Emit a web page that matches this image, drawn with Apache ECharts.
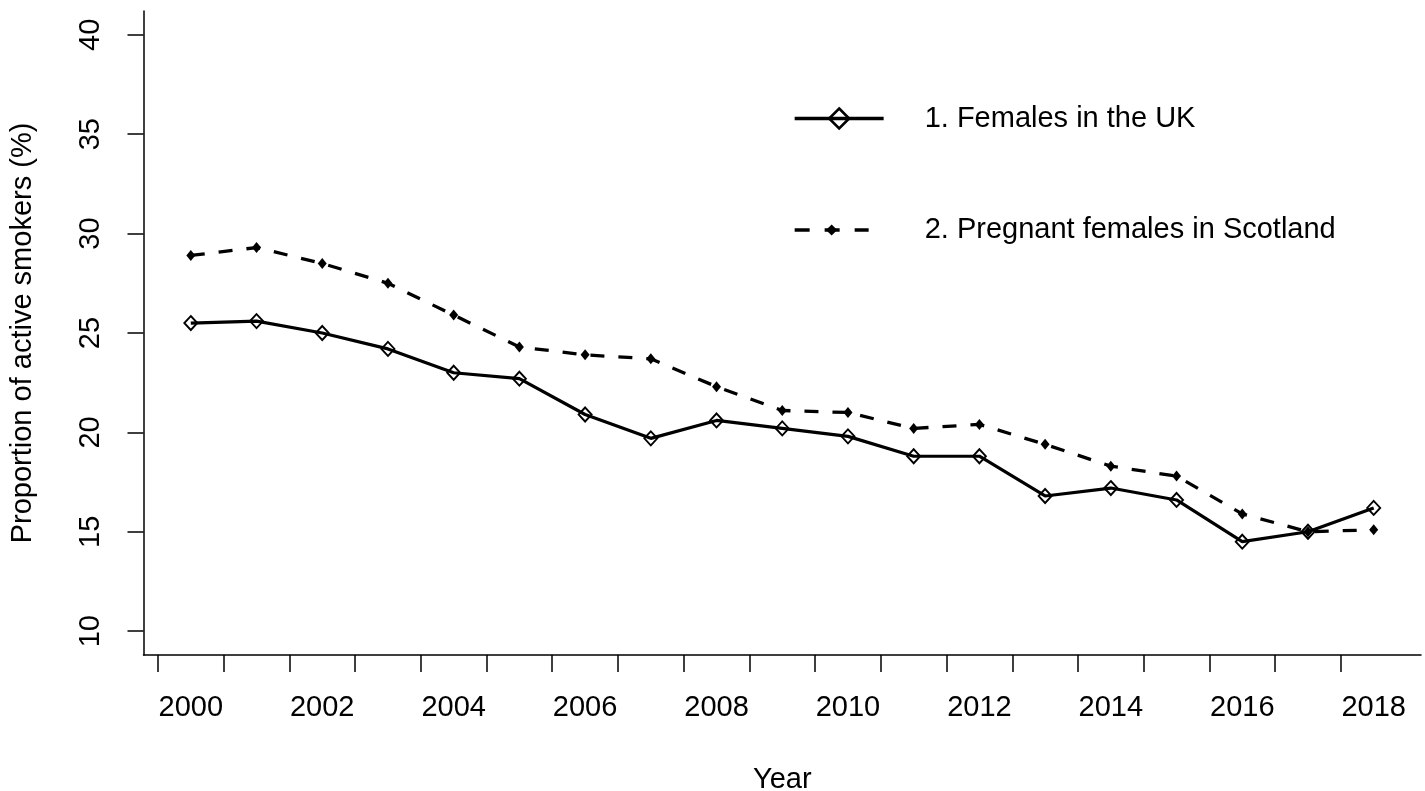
<!DOCTYPE html>
<html>
<head>
<meta charset="utf-8">
<script src="https://cdn.jsdelivr.net/npm/echarts@6/dist/echarts.min.js"></script>
<style>
html,body{margin:0;padding:0;background:#fff;}
#chart{width:1425px;height:791px;}
</style>
</head>
<body>
<div id="chart"></div>
<script>
// ---- data ----
var years = [2000,2001,2002,2003,2004,2005,2006,2007,2008,2009,2010,2011,2012,2013,2014,2015,2016,2017,2018];
var femalesUK = [25.5,25.6,25.0,24.2,23.0,22.7,20.9,19.7,20.6,20.2,19.8,18.8,18.8,16.8,17.2,16.6,14.5,15.0,16.2];
var pregnantScotland = [28.9,29.3,28.5,27.5,25.9,24.3,23.9,23.7,22.3,21.1,21.0,20.2,20.4,19.4,18.3,17.8,15.9,15.0,15.1];
var seriesNames = ['1. Females in the UK','2. Pregnant females in Scotland'];
var yTicks = [10,15,20,25,30,35,40];
var xLabels = [2000,2002,2004,2006,2008,2010,2012,2014,2016,2018];
var xTicks = years.map(function(y){return y - 0.5;});

var FONT = '"Liberation Sans", Arial, Helvetica, sans-serif';
var FS = 29;

function pairs(vals){ return years.map(function(y,i){ return [y, vals[i]]; }); }

var chart = echarts.init(document.getElementById('chart'), null, {renderer:'canvas'});
chart.setOption({
  animation:false,
  backgroundColor:'#fff',
  textStyle:{fontFamily:FONT},
  grid:{left:143.5, right:4, top:11, bottom:136, containLabel:false, outerBoundsMode:'none'},
  xAxis:{
    type:'value', min:1999.28, max:2018.72,
    name:'Year', nameLocation:'middle', nameGap:110,
    nameTextStyle:{fontSize:FS, color:'#000', fontFamily:FONT},
    axisLine:{show:true, onZero:false, lineStyle:{color:'#000', width:1.5}},
    axisTick:{show:true, inside:false, length:17, lineStyle:{color:'#000', width:1.5}, customValues:xTicks},
    axisLabel:{show:true, margin:38, fontSize:FS, color:'#000', fontFamily:FONT, customValues:xLabels, formatter:function(v){return String(v);}},
    splitLine:{show:false}
  },
  yAxis:{
    type:'value', min:8.8, max:41.2,
    name:'Proportion of active smokers (%)', nameLocation:'middle', nameGap:106,
    nameTextStyle:{fontSize:FS, color:'#000', fontFamily:FONT},
    axisLine:{show:true, onZero:false, lineStyle:{color:'#000', width:1.5}},
    axisTick:{show:true, inside:false, length:16, lineStyle:{color:'#000', width:1.5}, customValues:yTicks},
    axisLabel:{show:true, margin:38, rotate:90, fontSize:FS, color:'#000', fontFamily:FONT, customValues:yTicks, formatter:function(v){return String(v);}},
    splitLine:{show:false}
  },
  legend:[
    {
      data:[seriesNames[0]], left:793, top:104, orient:'vertical', padding:0,
      itemWidth:89, itemHeight:25,
      lineStyle:{width:3.3, color:'#000'},
      itemStyle:{borderWidth:2.6, borderColor:'#000', color:'rgba(255,255,255,0)'},
      textStyle:{fontSize:FS, color:'#000', fontFamily:FONT, padding:[0,0,0,36]},
      selectedMode:false
    },
    {
      data:[seriesNames[1]], left:793, top:215.5, orient:'vertical', padding:0,
      itemWidth:74, itemHeight:14,
      lineStyle:{width:3.3, color:'#000', type:[15,15]},
      textStyle:{fontSize:FS, color:'#000', fontFamily:FONT, padding:[0,0,0,51]},
      selectedMode:false
    }
  ],
  series:[
    {
      name:seriesNames[0], type:'line', data:pairs(femalesUK),
      symbol:'diamond', symbolSize:[13,14], showAllSymbol:true,
      lineStyle:{color:'#000', width:3.2},
      itemStyle:{color:'rgba(255,255,255,0)', borderColor:'#000', borderWidth:1.9},
      emphasis:{disabled:true}, z:3
    },
    {
      name:seriesNames[1], type:'line', data:pairs(pregnantScotland),
      symbol:'diamond', symbolSize:[9,11], showAllSymbol:true,
      lineStyle:{color:'#000', width:3.3, type:[14,14]},
      itemStyle:{color:'#000', borderColor:'#000', borderWidth:0},
      emphasis:{disabled:true}, z:2
    }
  ]
});
</script>
</body>
</html>
